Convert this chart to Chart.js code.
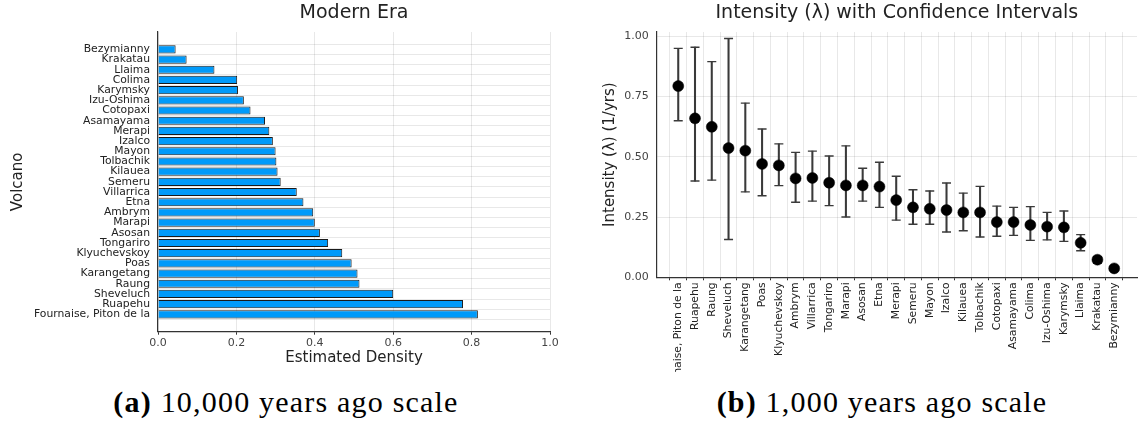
<!DOCTYPE html>
<html>
<head>
<meta charset="utf-8">
<script src="https://cdn.jsdelivr.net/npm/chart.js@4.4.0/dist/chart.umd.min.js"></script>
<style>
  body { margin: 0; background: #fff; width: 1143px; height: 423px; overflow: hidden; position: relative; }
  canvas { position: absolute; top: 0; }
  #densidade { left: 0; }
  #intensidade { left: 565px; }
  .caption { position: absolute; top: 387px; width: 420px; text-align: center; white-space: nowrap;
             font-family: "Liberation Serif", serif; font-size: 30px; letter-spacing: 1.2px; line-height: 1; color: #000; }
  .caption b { font-weight: bold; }
</style>
</head>
<body>
<canvas id="densidade" width="565" height="372"></canvas>
<canvas id="intensidade" width="578" height="372"></canvas>
<div class="caption" style="left:76px"><b>(a)</b> 10,000 years ago scale</div>
<div class="caption" style="left:672px"><b>(b)</b> 1,000 years ago scale</div>
<script>
// painel (a): densidade estimada, de cima para baixo
const vulcoesDensidade = ["Bezymianny", "Krakatau", "Llaima", "Colima", "Karymsky", "Izu-Oshima",
  "Cotopaxi", "Asamayama", "Merapi", "Izalco", "Mayon", "Tolbachik", "Kilauea", "Semeru",
  "Villarrica", "Etna", "Ambrym", "Marapi", "Asosan", "Tongariro", "Klyuchevskoy", "Poas",
  "Karangetang", "Raung", "Sheveluch", "Ruapehu", "Fournaise, Piton de la"];
const densidade = [0.045, 0.073, 0.144, 0.202, 0.204, 0.219, 0.236, 0.273, 0.284, 0.293, 0.300,
  0.302, 0.305, 0.313, 0.354, 0.371, 0.396, 0.400, 0.413, 0.434, 0.470, 0.494, 0.509, 0.514,
  0.600, 0.778, 0.816];
const ticksDensidade = [0, 0.2, 0.4, 0.6, 0.8, 1.0];

// painel (b): intensidade com intervalos de confiança
const vulcoesIntensidade = ["Fournaise, Piton de la", "Ruapehu", "Raung", "Sheveluch", "Karangetang",
  "Poas", "Klyuchevskoy", "Ambrym", "Villarrica", "Tongariro", "Marapi", "Asosan", "Etna", "Merapi",
  "Semeru", "Mayon", "Izalco", "Kilauea", "Tolbachik", "Cotopaxi", "Asamayama", "Colima",
  "Izu-Oshima", "Karymsky", "Llaima", "Krakatau", "Bezymianny"];
const intensidade = [0.793, 0.659, 0.624, 0.536, 0.525, 0.470, 0.464, 0.410, 0.412, 0.392, 0.381,
  0.381, 0.376, 0.320, 0.290, 0.284, 0.279, 0.269, 0.269, 0.229, 0.229, 0.217, 0.210, 0.207,
  0.143, 0.073, 0.037];
const limiteInferior = [0.649, 0.399, 0.403, 0.157, 0.354, 0.338, 0.380, 0.311, 0.316, 0.297, 0.250,
  0.316, 0.290, 0.237, 0.220, 0.220, 0.188, 0.193, 0.167, 0.170, 0.174, 0.153, 0.155, 0.149,
  0.110, 0.058, 0.030];
const limiteSuperior = [0.949, 0.954, 0.894, 0.990, 0.722, 0.615, 0.553, 0.518, 0.523, 0.503, 0.545,
  0.452, 0.477, 0.419, 0.363, 0.358, 0.391, 0.349, 0.377, 0.295, 0.290, 0.293, 0.269, 0.275,
  0.177, 0.085, 0.045];
const ticksIntensidade = [0, 0.25, 0.5, 0.75, 1.0];

Chart.defaults.font.family = "'DejaVu Sans', sans-serif";
Chart.defaults.color = "#222";
Chart.defaults.animation = false;

const corGrade = "rgba(0,0,0,0.09)";
const corEixo = "#333";

// (a) barras horizontais
new Chart(document.getElementById("densidade"), {
  type: "bar",
  data: {
    datasets: [{
      data: densidade.map((v, i) => ({ x: v, y: i })),
      backgroundColor: "#009AFA",
      borderColor: "#1a1a1a",
      borderWidth: 1,
      barPercentage: 0.8,
      categoryPercentage: 1,
    }],
  },
  options: {
    indexAxis: "y",
    responsive: false,
    devicePixelRatio: 1,
    layout: { padding: { right: 15, top: 0, left: 0, bottom: 0 } },
    plugins: {
      legend: { display: false },
      tooltip: { enabled: false },
      title: {
        display: true,
        text: "Modern Era",
        fullSize: false,
        font: { size: 19, weight: "normal" },
        color: "#222",
        padding: { top: 2, bottom: 7.2 },
      },
    },
    scales: {
      x: {
        type: "linear",
        min: 0,
        max: 1,
        afterBuildTicks: (s) => { s.ticks = ticksDensidade.map((v) => ({ value: v })); },
        afterFit: (s) => { s.height = 40.3; },
        ticks: { font: { size: 11 }, color: "#444", padding: 2, callback: (v) => v.toFixed(1) },
        grid: { color: corGrade, tickColor: corEixo, tickLength: 3 },
        border: { color: corEixo, width: 1.2 },
        title: { display: true, text: "Estimated Density", font: { size: 15 }, color: "#222", padding: { top: 0, bottom: 5 } },
      },
      y: {
        type: "linear",
        reverse: true,
        min: -1.16,
        max: 27.16,
        afterBuildTicks: (s) => { s.ticks = vulcoesDensidade.map((_, i) => ({ value: i })); },
        afterFit: (s) => { s.width = 158; },
        ticks: { autoSkip: false, font: { size: 10.8 }, color: "#222", padding: 8,
                 callback: (v) => vulcoesDensidade[v] },
        grid: { color: corGrade, drawTicks: false },
        border: { color: corEixo, width: 1.2 },
        title: { display: true, text: "Volcano", font: { size: 15 }, color: "#222", padding: { top: 9, bottom: 0 } },
      },
    },
  },
});

// (b) pontos com barras de erro
new Chart(document.getElementById("intensidade"), {
  type: "bar",
  data: {
    datasets: [
      {
        type: "bar",
        data: limiteInferior.map((lo, i) => ({ x: i, y: [lo, limiteSuperior[i]] })),
        backgroundColor: "#3a3a3a",
        barThickness: 1.4,
        order: 3,
      },
      {
        type: "line",
        showLine: false,
        data: limiteInferior.map((lo, i) => ({ x: i, y: lo }))
          .concat(limiteSuperior.map((hi, i) => ({ x: i, y: hi }))),
        pointStyle: "line",
        pointRadius: 4.5,
        borderColor: "#3a3a3a",
        borderWidth: 1.4,
        order: 2,
      },
      {
        type: "line",
        showLine: false,
        data: intensidade.map((v, i) => ({ x: i, y: v })),
        pointRadius: 5.5,
        pointBackgroundColor: "#000",
        pointBorderColor: "#000",
        pointBorderWidth: 0.5,
        order: 1,
      },
    ],
  },
  options: {
    responsive: false,
    devicePixelRatio: 1,
    layout: { padding: 0 },
    plugins: {
      legend: { display: false },
      tooltip: { enabled: false },
      title: {
        display: true,
        text: "Intensity (\u03bb) with Confidence Intervals",
        fullSize: false,
        font: { size: 19, weight: "normal" },
        color: "#222",
        padding: { top: 2, bottom: 7.2 },
      },
    },
    scales: {
      x: {
        type: "linear",
        min: -0.754,
        max: 26.83,
        afterBuildTicks: (s) => { s.ticks = vulcoesIntensidade.map((_, i) => ({ value: i })); },
        afterFit: (s) => { s.height = 94.7; },
        ticks: { autoSkip: false, minRotation: 90, maxRotation: 90, font: { size: 10.8 }, color: "#222",
                 padding: 2, callback: (v) => vulcoesIntensidade[v] },
        grid: { color: corGrade, tickColor: corEixo, tickLength: 3 },
        border: { color: corEixo, width: 1.2 },
      },
      y: {
        type: "linear",
        min: 0,
        max: 1.017,
        afterBuildTicks: (s) => { s.ticks = ticksIntensidade.map((v) => ({ value: v })); },
        afterFit: (s) => { s.width = 91.7; },
        ticks: { font: { size: 11 }, color: "#444", padding: 8, callback: (v) => v.toFixed(2) },
        grid: { color: corGrade, drawTicks: false },
        border: { color: corEixo, width: 1.2 },
        title: { display: true, text: "Intensity (\u03bb) (1/yrs)", font: { size: 15 }, color: "#222", padding: { top: 36, bottom: 0 } },
      },
    },
  },
});
</script>
</body>
</html>
